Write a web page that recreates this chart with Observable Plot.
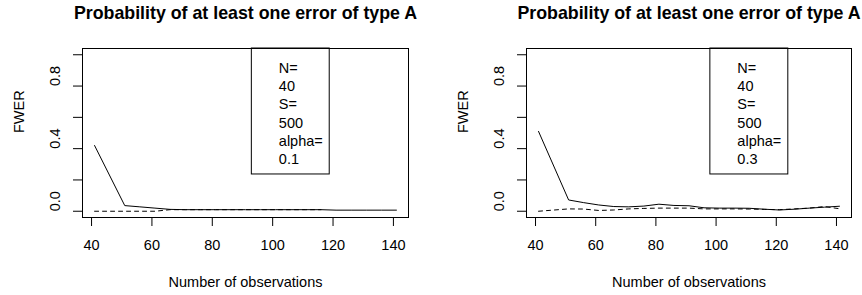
<!DOCTYPE html>
<html><head><meta charset="utf-8">
<script src="https://cdn.jsdelivr.net/npm/d3@7"></script>
<script src="https://cdn.jsdelivr.net/npm/@observablehq/plot@0.6"></script>
<style>
html,body{margin:0;padding:0;background:#fff;}
#wrap{position:relative;width:862px;height:295px;overflow:hidden;display:flex;}
#wrap svg{display:block;flex:none;}
</style></head><body><div id="wrap"></div>
<script>
// ---- data ----
const obs = [41, 51, 56, 61, 66, 71, 76, 81, 86, 91, 96, 101, 106, 111, 116, 121, 126, 131, 136, 141];
const solidA  = [0.42, 0.036, 0.028, 0.020, 0.012, 0.010, 0.010, 0.010, 0.010, 0.010, 0.010, 0.010, 0.010, 0.010, 0.010, 0.007, 0.007, 0.007, 0.007, 0.007];
const dashedA = [0.0, 0.0, 0.0, 0.0, 0.010, 0.010, 0.010, 0.010, 0.010, 0.010, 0.010, 0.010, 0.010, 0.010, 0.010, null, null, null, null, null];
const solidB  = [0.51, 0.072, 0.055, 0.040, 0.030, 0.028, 0.033, 0.045, 0.037, 0.035, 0.022, 0.020, 0.020, 0.019, 0.013, 0.008, 0.013, 0.020, 0.026, 0.032];
const dashedB = [0.0, 0.015, 0.014, 0.005, 0.008, 0.015, 0.018, 0.020, 0.020, 0.020, 0.015, 0.015, 0.015, 0.014, 0.012, 0.010, 0.015, 0.020, 0.030, 0.016];
const xTicks = [40, 60, 80, 100, 120, 140];
const yTicks = [0, 0.2, 0.4, 0.6, 0.8, 1.0];
const yTickLabels = [0, 0.4, 0.8];
const legendA = ["N=", "40", "S=", "500", "alpha=", "0.1"];
const legendB = ["N=", "40", "S=", "500", "alpha=", "0.3"];
const titleText = "Probability of at least one error of type A";
const xLabel = "Number of observations";
const yLabel = "FWER";

const FONT = "'Liberation Sans', Arial, Helvetica, sans-serif";
const YMAX = 1.04;

function panel(cfg) {
  const solid = obs.map((x, i) => ({x, y: cfg.solid[i]}));
  const dashed = obs.map((x, i) => ({x, y: cfg.dashed[i]}));
  const box = {x1: cfg.lx1, x2: cfg.lx2, y1: cfg.ly1, y2: YMAX};
  return Plot.plot({
    width: 431, height: 295,
    marginTop: 48, marginBottom: 78, marginLeft: cfg.ml, marginRight: cfg.mr,
    x: {domain: [37, 145]},
    y: {domain: [-0.04, YMAX]},
    style: {fontFamily: FONT, fontSize: "14.5px", color: "#000", background: "#fff", overflow: "visible"},
    marks: [
      Plot.axisX({ticks: xTicks, tickSize: 9, tickPadding: 13, label: null, fontSize: 14.5, tickFormat: d => String(d)}),
      Plot.axisY({ticks: yTicks, tickSize: 9, tickFormat: () => "", label: null}),
      Plot.text(yTickLabels, {y: d => d, text: d => d.toFixed(1), frameAnchor: "left", dx: -27, rotate: -90, lineAnchor: "middle", fontSize: 14.5}),
      Plot.line(dashed, {x: "x", y: "y", stroke: "#000", strokeWidth: 1, strokeDasharray: "4,4"}),
      Plot.line(solid, {x: "x", y: "y", stroke: "#000", strokeWidth: 1}),
      Plot.rect([box], {x1: d => d.x1, x2: d => d.x2, y1: d => d.y1, y2: d => d.y2, fill: "#fff", stroke: "#000"}),
      Plot.text([cfg.legend.join("\n")], {x: () => cfg.lx1, y: () => YMAX, text: d => d, dx: 27, dy: 11.8, textAnchor: "start", lineAnchor: "top", lineHeight: 1.25, fontSize: 14.5}),
      Plot.frame({stroke: "#000"}),
      Plot.text([titleText], {text: d => d, frameAnchor: "top", lineAnchor: "middle", dy: -35, fontWeight: "bold", fontSize: 17.8}),
      Plot.text([yLabel], {text: d => d, frameAnchor: "left", lineAnchor: "middle", dx: -63, rotate: -90, fontSize: 14.5}),
      Plot.text([xLabel], {text: d => d, frameAnchor: "bottom", lineAnchor: "middle", dy: 65, fontSize: 14.5})
    ]
  });
}

const wrap = document.getElementById("wrap");
wrap.append(panel({solid: solidA, dashed: dashedA, legend: legendA, ml: 82, mr: 23, lx1: 93.1, lx2: 118.9, ly1: 0.235}));
wrap.append(panel({solid: solidB, dashed: dashedB, legend: legendB, ml: 95, mr: 11, lx1: 98.1, lx2: 124.0, ly1: 0.235}));
</script>
</body></html>
